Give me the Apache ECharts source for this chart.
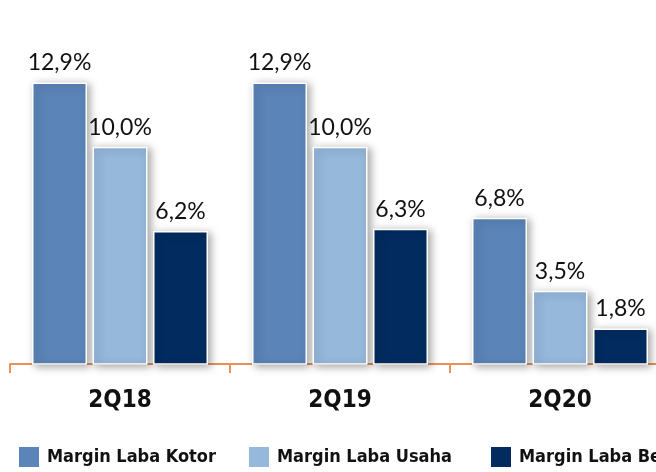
<!DOCTYPE html>
<html>
<head>
<meta charset="utf-8">
<script src="https://cdn.jsdelivr.net/npm/echarts@6/dist/echarts.min.js"></script>
<style>
html,body{margin:0;padding:0;background:#fff;}
#chart{width:656px;height:472px;}
</style>
</head>
<body>
<div id="chart"></div>
<script>
const categories = ['2Q18', '2Q19', '2Q20'];
const seriesNames = ['Margin Laba Kotor', 'Margin Laba Usaha', 'Margin Laba Bersi'];
const kotor = [12.9, 12.9, 6.8];
const usaha = [10.0, 10.0, 3.5];
const bersih = [6.2, 6.3, 1.8];
const colors = ['#5b84b8', '#95b8db', '#022b60'];

const chart = echarts.init(document.getElementById('chart'));
const narrow = '"Liberation Sans Narrow", "DejaVu Sans Condensed", "Arial Narrow", sans-serif';
const values = [kotor, usaha, bersih];
const legendLefts = [17, 247, 489];

const series = values.map((v, i) => ({
  name: seriesNames[i],
  type: 'bar',
  data: v,
  barWidth: 55,
  barGap: '10%',
  itemStyle: {
    color: colors[i],
    borderColor: '#ffffff',
    borderWidth: 1.5,
    shadowBlur: 8,
    shadowColor: 'rgba(0,0,0,0.35)',
    shadowOffsetX: 3,
    shadowOffsetY: 2
  },
  label: {
    show: true,
    position: 'top',
    distance: 8,
    color: '#111',
    fontSize: 23,
    fontFamily: 'Lato, "Noto Sans", sans-serif',
    formatter: p => p.value.toFixed(1).replace('.', ',') + '%'
  }
}));

chart.setOption({
  animation: false,
  backgroundColor: '#fff',
  grid: { left: 10, width: 660, top: 58, height: 306, containLabel: false, outerBoundsMode: 'none' },
  legend: seriesNames.map((n, i) => ({
    data: [n],
    left: legendLefts[i],
    top: 445,
    padding: 0,
    itemWidth: 22,
    itemHeight: 22,
    icon: 'rect',
    textStyle: { fontSize: 18, fontFamily: narrow, fontWeight: 'bold', color: '#111', padding: [0, 0, 0, 2] }
  })),
  xAxis: {
    type: 'category',
    data: categories,
    axisLine: { lineStyle: { color: '#e8925a', width: 2 } },
    axisTick: { show: true, length: 9, lineStyle: { color: '#e8925a', width: 2 } },
    axisLabel: { fontSize: 24, fontFamily: narrow, fontWeight: 'bold', color: '#111', margin: 25 }
  },
  yAxis: {
    type: 'value',
    min: 0.2,
    max: 14,
    show: false,
    splitLine: { show: false }
  },
  series: series
});
</script>
</body>
</html>
